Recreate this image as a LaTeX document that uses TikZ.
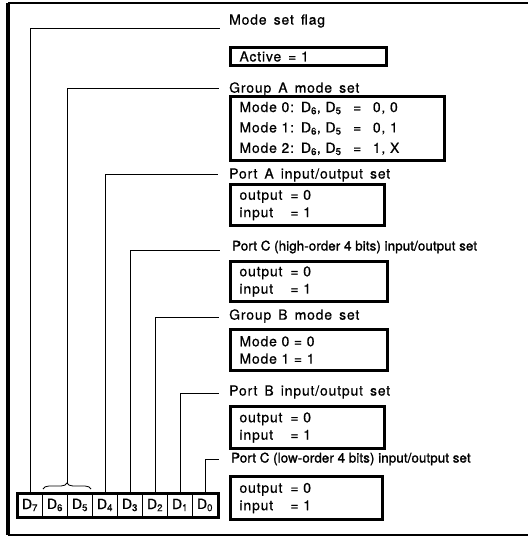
\documentclass[tikz,border=0pt]{standalone}
\usepackage{fontspec}
\setmainfont{TeX Gyre Heros}[FakeBold=0.6]
\newfontfamily\lblfont{TeX Gyre Heros}[LetterSpace=6,WordSpace=1.5,FakeBold=0.6]
\newfontfamily\pcfont{TeX Gyre Heros}[LetterSpace=1,FakeBold=1.6]
\usetikzlibrary{decorations.pathreplacing,calc}
\begin{document}
\begin{tikzpicture}[x=1bp,y=-1bp,
  lbl/.style={anchor=west,inner sep=0pt,font=\lblfont\fontsize{14}{16}\selectfont},
  pclbl/.style={anchor=west,inner sep=0pt,font=\pcfont\fontsize{13.3}{15}\selectfont},
  infobox/.style={draw,line width=3bp,anchor=north west,inner xsep=9bp,inner ysep=0pt,align=left,
    font=\lblfont\fontsize{14}{17.5}\selectfont},
  lead/.style={line width=0.8bp},
  cell/.style={draw,line width=1bp,minimum width=25bp,minimum height=23bp,inner sep=0pt,
    anchor=north west,font=\fontsize{14}{16}\selectfont}]
\useasboundingbox (0,0) rectangle (528,539);
% outer frame
\draw[line width=2.4bp] (534,3) -- (8,3);
\draw[line width=3.4bp] (8,3) -- (8,535);
\draw[line width=2.4bp] (8,535) -- (534,535);

% labels
\node[lbl] (l1) at (229,21) {Mode set flag};
\node[lbl] (l2) at (229,89) {Group A mode set};
\node[lbl] (l3) at (229,175) {Port A input/output set};
\node[pclbl] (l4) at (232,247) {Port C (high-order 4 bits) input/output set};
\node[lbl] (l5) at (229,316) {Group B mode set};
\node[lbl] (l6) at (229,392) {Port B input/output set};
\node[pclbl] (l7) at (231,459) {Port C (low-order 4 bits) input/output set};

% boxes
\node[infobox,minimum width=156bp,minimum height=18bp,text width=138bp] (b1) at (229,46) {Active \,= 1};
\node[infobox,minimum width=214bp,minimum height=64bp,text width=196bp,
  font=\lblfont\fontsize{14}{20.5}\selectfont] (b2) at (229,95)
  {Mode 0: D\textsubscript{6}, D\textsubscript{5} \ \,= \ \,0, 0\\
   Mode 1: D\textsubscript{6}, D\textsubscript{5} \ \,= \ \,0, 1\\
   Mode 2: D\textsubscript{6}, D\textsubscript{5} \ \,= \ \,1, X};
\node[infobox,minimum width=154bp,minimum height=41bp,text width=136bp] (b3) at (229,183)
  {\begin{tabular}{@{}l@{\hspace{8bp}}l@{}}output & = 0\\ input & = 1\end{tabular}};
\node[infobox,minimum width=157bp,minimum height=40bp,text width=139bp] (b4) at (229,260)
  {\begin{tabular}{@{}l@{\hspace{8bp}}l@{}}output & = 0\\ input & = 1\end{tabular}};
\node[infobox,minimum width=157bp,minimum height=41bp,text width=139bp] (b5) at (229,328)
  {Mode 0 = 0\\ Mode 1 = 1};
\node[infobox,minimum width=154bp,minimum height=42bp,text width=136bp] (b6) at (229,405)
  {\begin{tabular}{@{}l@{\hspace{8bp}}l@{}}output & = 0\\ input & = 1\end{tabular}};
\node[infobox,minimum width=152bp,minimum height=43bp,text width=134bp] (b7) at (229,475)
  {\begin{tabular}{@{}l@{\hspace{8bp}}l@{}}output & = 0\\ input & = 1\end{tabular}};

% register
\node[cell] (r7) at (17,493) {D\textsubscript{7}};
\node[cell] (r6) at (42,493) {D\textsubscript{6}};
\node[cell] (r5) at (67,493) {D\textsubscript{5}};
\node[cell] (r4) at (92,493) {D\textsubscript{4}};
\node[cell] (r3) at (117,493) {D\textsubscript{3}};
\node[cell] (r2) at (142,493) {D\textsubscript{2}};
\node[cell] (r1) at (167,493) {D\textsubscript{1}};
\node[cell] (r0) at (192,493) {D\textsubscript{0}};
\draw[line width=3bp] (r7.north west) rectangle (r0.south east);

% brace over D6 D5
\draw[lead,decorate,decoration={brace,amplitude=6bp}] (43,489) -- (91,489);
\coordinate (bt) at (67,483);

% leader ends
\coordinate (c1) at (220,28);
\coordinate (c2) at (219,88);
\coordinate (c3) at (218,174);
\coordinate (c4) at (220,250);
\coordinate (c5) at (219,317);
\coordinate (c6) at (219,393);
\coordinate (c7) at (219,459);

\draw[lead] (r7.north) |- (c1);
\draw[lead] (bt) |- (c2);
\draw[lead] (r4.north) |- (c3);
\draw[lead] (r3.north) |- (c4);
\draw[lead] (r2.north) |- (c5);
\draw[lead] (r1.north) |- (c6);
\draw[lead] (r0.north) |- (c7);
\end{tikzpicture}
\end{document}
